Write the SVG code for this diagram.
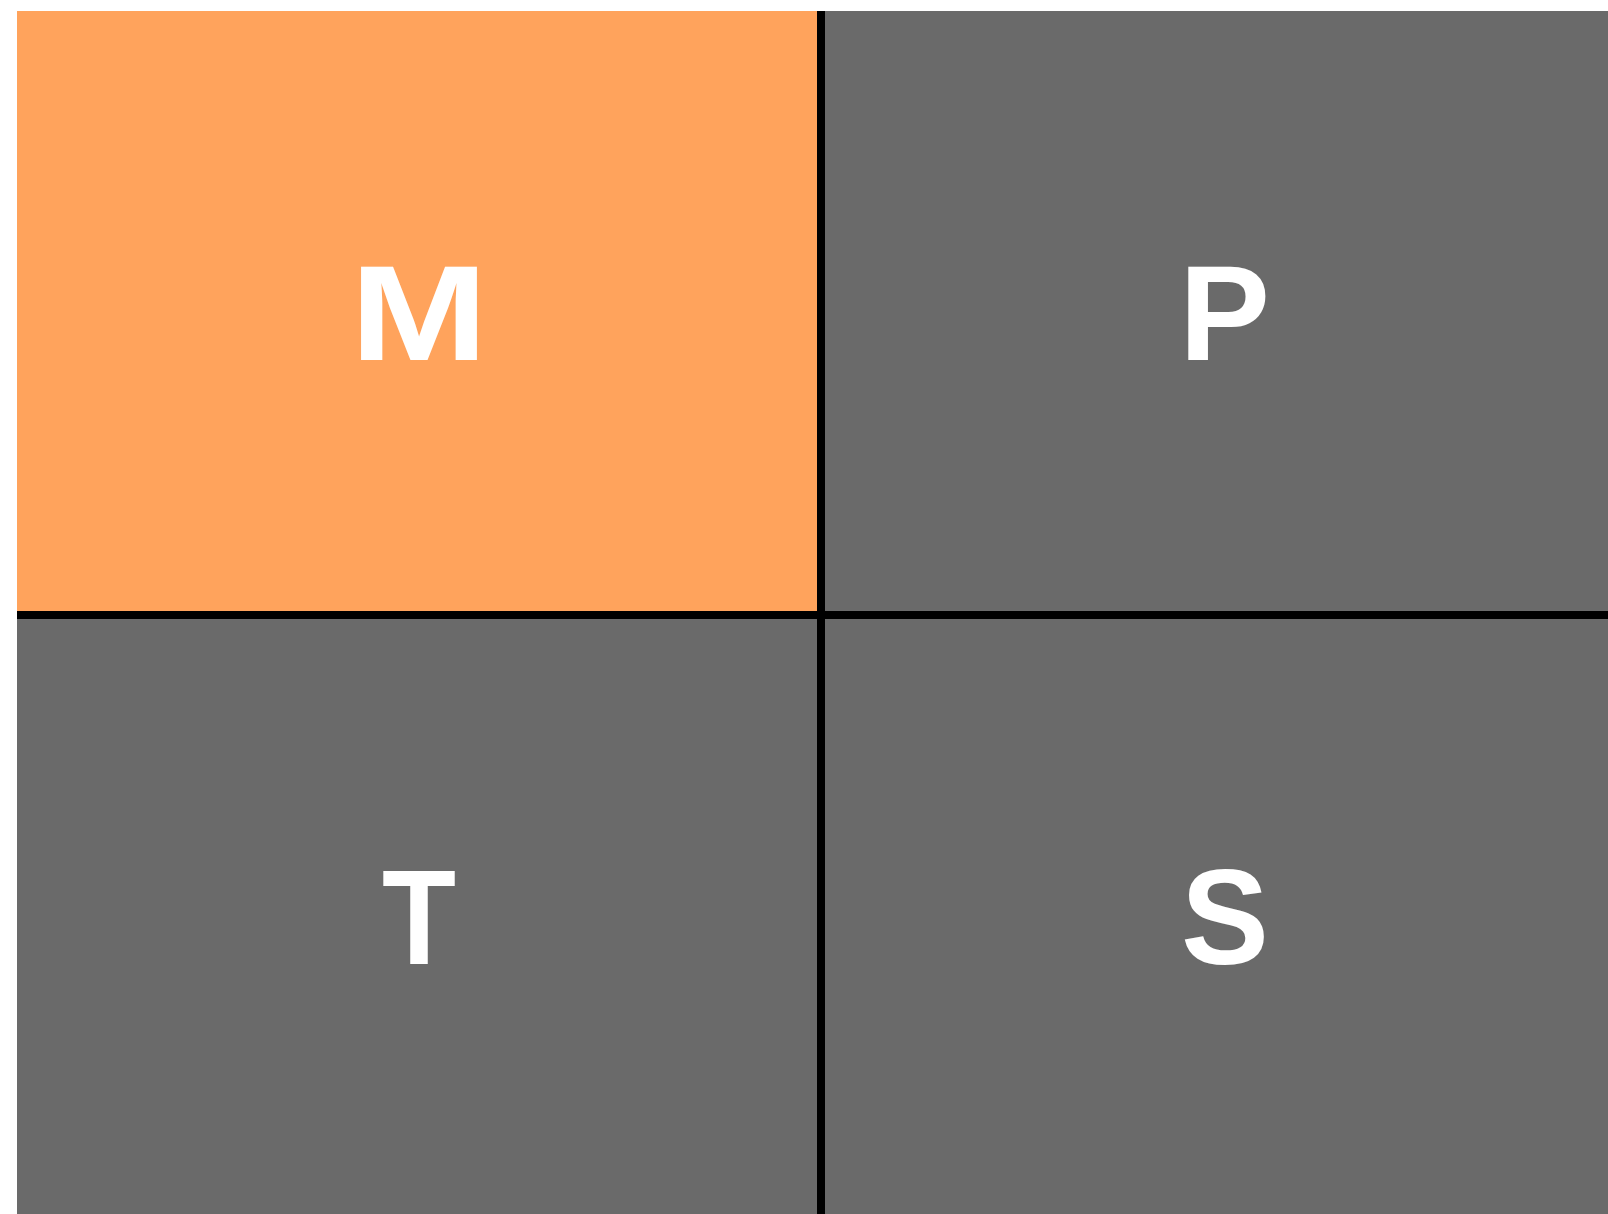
<svg xmlns="http://www.w3.org/2000/svg" width="1608" height="1214" viewBox="0 0 1608 1214">
<style>
.cell{fill:#6A6A6A}
.hl{fill:#FFA35C}
.lbl{font-family:"Liberation Sans",Arial,sans-serif;font-weight:bold;font-size:136px;fill:#FFFFFF;text-anchor:middle}
</style>
<rect width="1608" height="1214" fill="#FFFFFF"/>
<g id="dividers">
<rect x="17" y="11" width="1591" height="1203" fill="#000000"/>
</g>
<g id="node-M">
<rect class="hl" x="17" y="11" width="800" height="600"/>
<text class="lbl" x="419" y="360" textLength="138" lengthAdjust="spacingAndGlyphs">M</text>
</g>
<g id="node-P">
<rect class="cell" x="825" y="11" width="783" height="600"/>
<text class="lbl" x="1224.5" y="360">P</text>
</g>
<g id="node-T">
<rect class="cell" x="17" y="619" width="800" height="595"/>
<text class="lbl" x="419" y="964" textLength="74" lengthAdjust="spacingAndGlyphs">T</text>
</g>
<g id="node-S">
<rect class="cell" x="825" y="619" width="783" height="595"/>
<text class="lbl" x="1225" y="964" textLength="88" lengthAdjust="spacingAndGlyphs">S</text>
</g>
</svg>
